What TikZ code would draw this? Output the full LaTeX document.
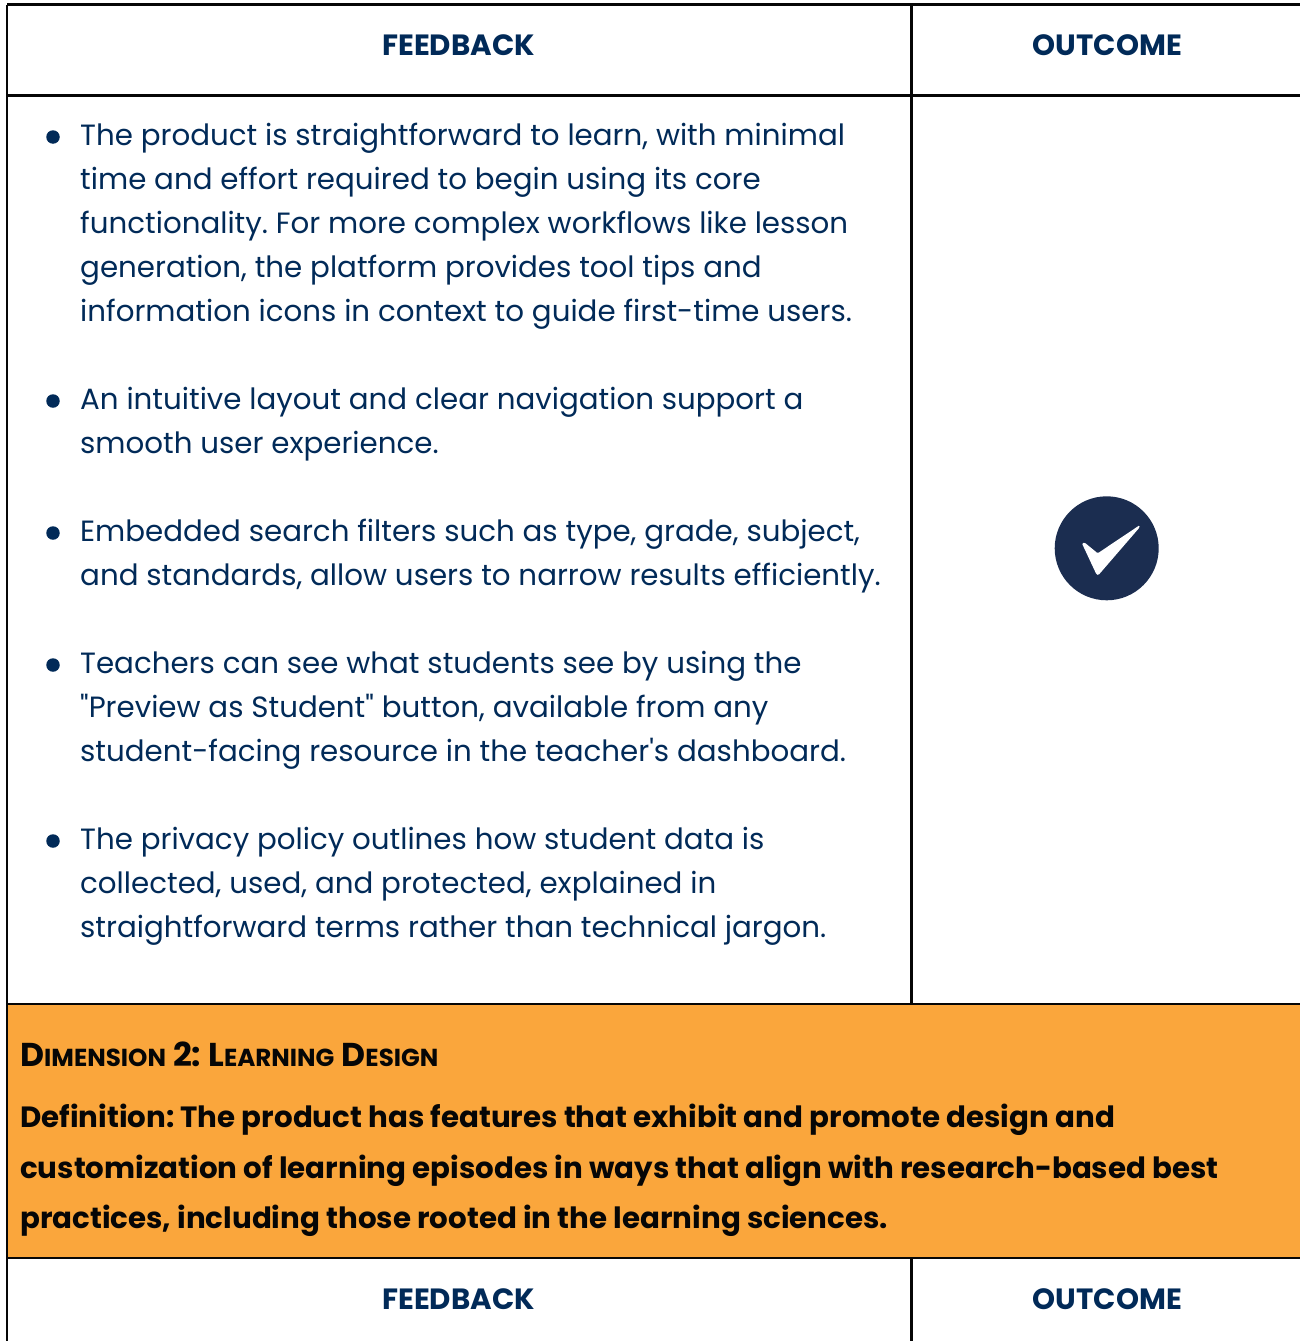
\documentclass[tikz,border=0pt]{standalone}
\usepackage{fontspec}
\newfontfamily\pop{Poppins}
\definecolor{navy}{HTML}{012A58}
\definecolor{chk}{HTML}{1B2D50}
\definecolor{band}{HTML}{FAA63C}
\definecolor{ink}{HTML}{060606}
\tikzset{
 x=1pt,y=-1pt,
 rule/.style={draw=ink,line width=2.5pt},
 head/.style={font=\pop\frenchspacing\fontsize{29.3}{34}\selectfont\bfseries,text=navy,anchor=center,inner sep=0},
 ln/.style={font=\pop\frenchspacing\fontsize{29.3}{34}\selectfont,text=navy,anchor=base west,inner sep=0},
 dot/.style={circle,fill=navy,minimum size=13.5pt,inner sep=0},
 bandtxt/.style={font=\pop\frenchspacing\fontsize{29.3}{34}\selectfont\bfseries,text=ink,anchor=base west,inner sep=0},
 titletxt/.style={font=\pop\frenchspacing\fontsize{33}{38}\selectfont\bfseries,text=ink,anchor=base west,inner sep=0},
}
\newcommand{\smc}[1]{{\fontsize{24.6}{30}\selectfont #1}}
\begin{document}
\begin{tikzpicture}
\useasboundingbox (0,0) rectangle (1300,1341);
\fill[band] (7,1004) rectangle (1300,1258);
\coordinate (tl) at (7,4.5); \coordinate (tr) at (1300,4.5);
\coordinate (a1) at (7,95.5); \coordinate (a2) at (1300,95.5);
\coordinate (b1) at (7,1004); \coordinate (b2) at (1300,1004);
\coordinate (c1) at (7,1258); \coordinate (c2) at (1300,1258);
\coordinate (bl) at (7,1341);
\coordinate (m1) at (911.5,4.5); \coordinate (m2) at (911.5,1004);
\coordinate (m3) at (911.5,1258); \coordinate (m4) at (911.5,1341);
\draw[rule] (tl)--(tr) (a1)--(a2) (b1)--(b2) (c1)--(c2) (tl)--(bl) (m1)--(m2) (m3)--(m4);
\node[head] (h1) at (458.5,45) {FEEDBACK};
\node[head] (h2) at (1107.5,45) {OUTCOME};
\node[head] (h3) at (458.5,1299) {FEEDBACK};
\node[head] (h4) at (1107.5,1299) {OUTCOME};
\node[dot] (d1) at (53,137) {};
\node[ln] (l1) at (80,145) {The product is straightforward to learn, with minimal};
\node[ln] (l2) at (80,189) {time and effort required to begin using its core};
\node[ln] (l3) at (80,233) {functionality. For more complex workflows like lesson};
\node[ln] (l4) at (80,277) {generation, the platform provides tool tips and};
\node[ln] (l5) at (80,321) {information icons in context to guide first-time users.};
\node[dot] (d2) at (53,401) {};
\node[ln] (l6) at (80,409) {An intuitive layout and clear navigation support a};
\node[ln] (l7) at (80,453) {smooth user experience.};
\node[dot] (d3) at (53,533) {};
\node[ln] (l8) at (80,541) {Embedded search filters such as type, grade, subject,};
\node[ln] (l9) at (80,585) {and standards, allow users to narrow results efficiently.};
\node[dot] (d4) at (53,665) {};
\node[ln] (l10) at (80,673) {Teachers can see what students see by using the};
\node[ln] (l11) at (80,717) {"Preview as Student" button, available from any};
\node[ln] (l12) at (80,761) {student-facing resource in the teacher's dashboard.};
\node[dot] (d5) at (53,841) {};
\node[ln] (l13) at (80,849) {The privacy policy outlines how student data is};
\node[ln] (l14) at (80,893) {collected, used, and protected, explained in};
\node[ln] (l15) at (80,937) {straightforward terms rather than technical jargon.};
\node[circle,fill=chk,minimum size=104pt,inner sep=0] (ck) at (1106.7,548.3) {};
\fill[white,rounded corners=1pt] (1082,543.5) -- (1084.5,542.5) -- (1097.7,553.3) -- (1139.5,525.3) -- (1139.5,527.5) -- (1098.5,575) -- (1096.5,574.5) -- cycle;
\node[titletxt] (t0) at (20,1066) {D\smc{IMENSION} 2: L\smc{EARNING} D\smc{ESIGN}};
\node[bandtxt] (t1) at (20,1127) {Definition: The product has features that exhibit and promote design and};
\node[bandtxt] (t2) at (20,1178) {customization of learning episodes in ways that align with research-based best};
\node[bandtxt] (t3) at (20,1228) {practices, including those rooted in the learning sciences.};
\end{tikzpicture}
\end{document}
